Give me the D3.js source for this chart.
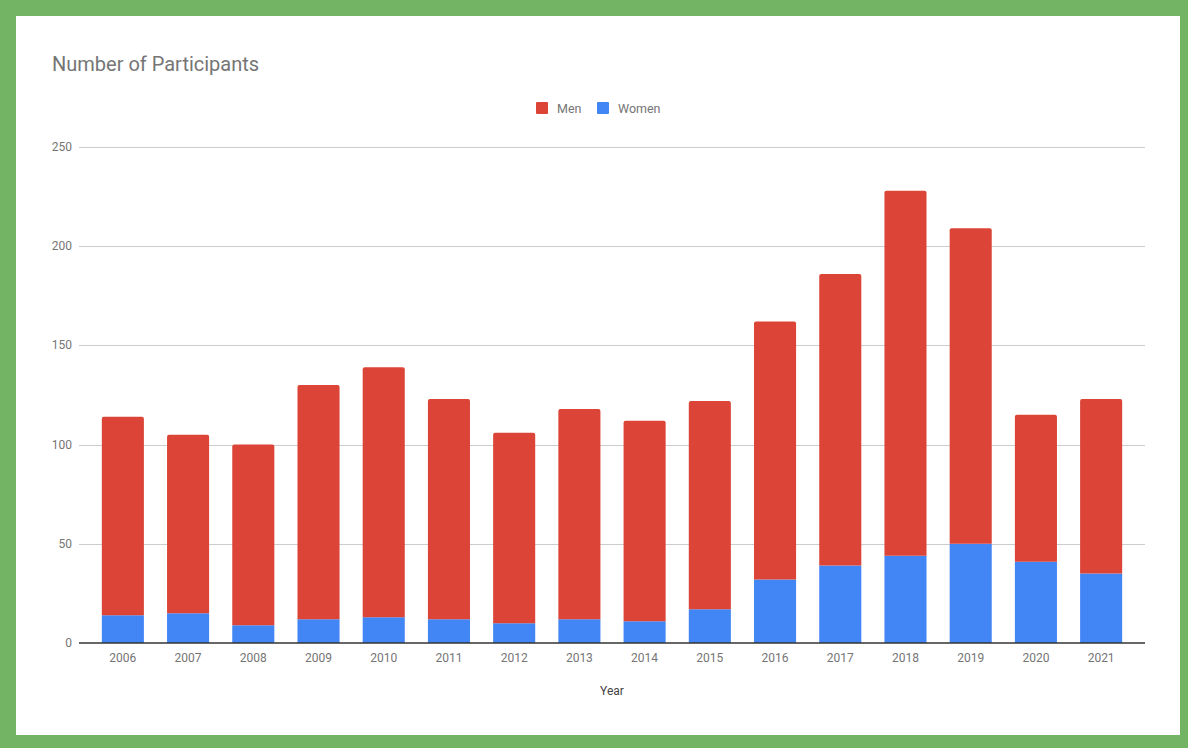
<!DOCTYPE html>
<html><head><meta charset="utf-8">
<script src="https://cdn.jsdelivr.net/npm/d3@7"></script>
<style>
html,body{margin:0;padding:0;background:#72b463;}
svg{display:block;font-family:Roboto, Arial, sans-serif;}
</style></head>
<body>
<svg id="chart" width="1188" height="748"></svg>
<script>
const years = ["2006","2007","2008","2009","2010","2011","2012","2013","2014","2015","2016","2017","2018","2019","2020","2021"];
const women = [14,15,9,12,13,12,10,12,11,17,32,39,44,50,41,35];
const men = [100,90,91,118,126,111,96,106,101,105,130,147,184,159,74,88];
const yTicks = [0,50,100,150,200,250];
const seriesNames = ["Men","Women"];
const colors = {Men:"#db4437", Women:"#4285f4"};

(function(){
const svg = d3.select("#chart");
svg.append("rect").attr("width",1188).attr("height",748).attr("fill","#72b463");
svg.append("rect").attr("x",16).attr("y",16).attr("width",1164).attr("height",719).attr("fill","#fff");

const pL=79, pR=1145, pT=147, pB=643;
const x = d3.scaleBand().domain(years).range([pL,pR]).paddingInner(0.355).paddingOuter(0.35);
const y = d3.scaleLinear().domain([0,250]).range([pB,pT]);

// grid
svg.append("g").selectAll("line").data(yTicks.filter(d=>d>0)).join("line")
  .attr("x1",pL).attr("x2",pR).attr("y1",d=>Math.round(y(d))+0.5).attr("y2",d=>Math.round(y(d))+0.5)
  .attr("stroke","#cccccc").attr("stroke-width",1);

// y labels
svg.append("g").selectAll("text").data(yTicks).join("text")
  .attr("x",72).attr("y",d=>y(d)+4).attr("text-anchor","end")
  .attr("font-size",12).attr("fill","#757575").text(d=>d);

const data = years.map((yr,i)=>({year:yr, Women:women[i], Men:men[i]}));
const stack = d3.stack().keys(["Women","Men"])(data);

const g = svg.append("g");
stack.forEach(s=>{
  g.selectAll(null).data(s).join("path")
   .attr("fill",colors[s.key])
   .attr("d",d=>{
     const x0=x(d.data.year), w=x.bandwidth();
     const y0=y(d[0]), y1=y(d[1]);
     if(s.key==="Men"){
       const r=2;
       return `M${x0},${y0}V${y1+r}Q${x0},${y1} ${x0+r},${y1}H${x0+w-r}Q${x0+w},${y1} ${x0+w},${y1+r}V${y0}Z`;
     }
     return `M${x0},${y0}V${y1}H${x0+w}V${y0}Z`;
   });
});

// baseline
svg.append("line").attr("x1",pL).attr("x2",pR).attr("y1",y(0)).attr("y2",y(0))
  .attr("stroke","#333").attr("stroke-width",1.5);

// x labels
svg.append("g").selectAll("text").data(years).join("text")
  .attr("x",d=>x(d)+x.bandwidth()/2).attr("y",662).attr("text-anchor","middle")
  .attr("font-size",12).attr("fill","#757575").text(d=>d);

svg.append("text").attr("x",612).attr("y",695).attr("text-anchor","middle")
  .attr("font-size",12).attr("fill","#444").text("Year");

svg.append("text").attr("x",52).attr("y",71).attr("font-size",20).attr("fill","#757575").text("Number of Participants");

// legend
const legX=[536,597];
seriesNames.forEach((n,i)=>{
  svg.append("rect").attr("x",legX[i]).attr("y",102).attr("width",12).attr("height",12).attr("rx",1).attr("fill",colors[n]);
  svg.append("text").attr("x",legX[i]+21).attr("y",113).attr("font-size",12.5).attr("fill","#757575").text(n);
});
})();
</script>
</body></html>
